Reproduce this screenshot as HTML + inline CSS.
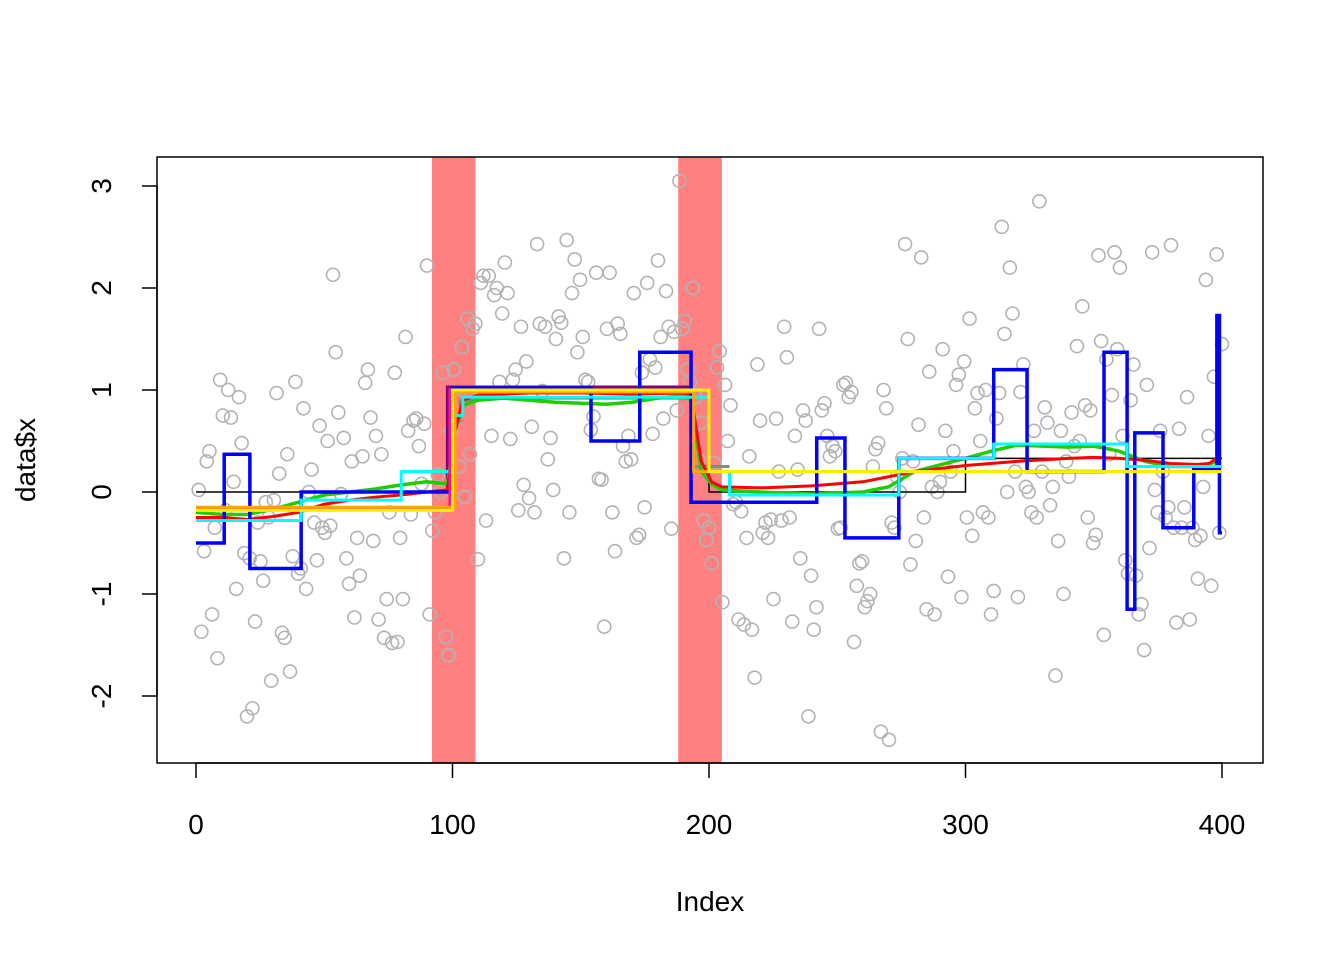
<!DOCTYPE html>
<html><head><meta charset="utf-8"><style>body{margin:0;background:#fff}svg{display:block;font-family:"Liberation Sans",Arial,sans-serif}</style></head>
<body>
<svg id="chart" width="1344" height="960"></svg>
<script>
const pts = [0.02,-1.37,-0.58,0.3,0.4,-1.2,-0.35,-1.63,1.1,0.75,-0.18,1.0,0.73,0.1,-0.95,0.93,0.48,-0.6,-2.2,-0.65,
-2.12,-1.27,-0.3,-0.68,-0.87,-0.1,-0.25,-1.85,-0.08,0.97,0.18,-1.38,-1.43,0.37,-1.76,-0.63,1.08,-0.8,-0.75,0.82,
-0.95,0.0,0.22,-0.3,-0.67,0.65,-0.35,-0.4,0.5,-0.33,2.13,1.37,0.78,-0.02,0.53,-0.65,-0.9,0.3,-1.23,-0.45,
-0.82,0.35,1.07,1.2,0.73,-0.48,0.55,-1.25,0.37,-1.43,-1.05,-0.2,-1.48,1.17,-1.47,-0.45,-1.05,1.52,0.6,-0.22,
0.7,0.72,0.45,0.08,0.67,2.22,-1.2,-0.38,-0.2,0.17,0.0,1.17,-1.42,-1.6,0.6,1.2,0.9,0.25,1.42,-0.05,
1.7,0.37,1.6,1.65,-0.66,2.05,2.12,-0.28,2.12,0.55,1.93,2.0,1.08,1.75,2.25,1.95,0.52,1.1,1.2,-0.18,
1.62,0.07,1.28,-0.06,0.64,-0.2,2.43,1.65,0.99,1.62,0.32,0.53,0.02,1.5,1.72,1.66,-0.65,2.47,-0.2,1.95,
2.28,1.37,2.08,1.52,1.1,1.08,0.61,0.74,2.15,0.13,0.12,-1.32,1.6,2.15,-0.2,-0.58,1.65,1.55,0.45,0.3,
0.55,0.32,1.95,-0.45,-0.42,1.17,-0.15,2.05,1.3,0.57,1.22,2.27,1.52,0.72,1.97,1.62,-0.36,1.57,0.8,3.05,
1.6,1.68,1.2,1.08,2.0,0.93,0.32,0.68,-0.28,-0.47,-0.35,-0.7,0.28,1.22,1.38,-1.08,1.05,0.5,0.85,-0.12,
-0.1,-1.25,-0.19,-1.3,-0.45,0.35,-1.35,-1.82,1.25,0.7,-0.4,-0.3,-0.45,-0.27,-1.05,0.72,0.2,-0.28,1.62,1.32,
-0.25,-1.27,0.55,0.22,-0.65,0.8,0.7,-2.2,-0.82,-1.35,-1.13,1.6,0.8,0.87,0.55,0.35,0.45,0.4,-0.36,-0.35,
1.05,1.07,0.93,0.98,-1.47,-0.92,-0.7,-0.68,-1.13,-1.07,-1.0,0.25,0.42,0.48,-2.35,1.0,0.82,-2.43,-0.3,-0.35,
0.15,0.0,0.33,2.43,1.5,-0.71,0.3,-0.48,0.66,2.3,-0.25,-1.15,1.18,0.05,-1.2,0.0,0.1,1.4,0.6,-0.83,
0.2,0.4,1.05,1.15,-1.03,1.28,-0.25,1.7,-0.43,0.82,0.97,0.5,-0.2,1.0,-0.25,-1.2,-0.97,0.72,0.97,2.6,
1.55,0.0,2.2,1.75,0.2,-1.03,0.98,1.25,0.05,0.0,-0.2,0.6,-0.25,2.85,0.2,0.83,0.68,-0.13,0.05,-1.8,
-0.48,0.6,-1.0,0.3,0.15,0.78,0.45,1.43,0.5,1.82,0.85,-0.25,0.8,-0.5,-0.42,2.32,1.48,-1.4,1.3,0.37,
0.95,2.35,1.4,2.2,0.55,-0.67,-0.8,0.9,1.25,-0.82,-1.2,-1.1,-1.55,1.05,-0.55,2.35,0.02,-0.2,0.6,0.2,
-0.25,-0.15,2.42,-0.35,-1.28,0.62,-0.35,-0.15,0.93,-1.25,-0.35,-0.47,-0.85,-0.43,0.05,2.08,0.55,-0.92,1.13,2.33,-0.4,1.45];
const bands = [[92,109],[188,205]];
const blackBreaks = [0,100,200,300,400], blackVals = [0,1,0,0.33];
const blueBreaks = [0,11,21,41,100,154,173,193,242,253,274,311,324,354,363,366,377,389,398,399,400];
const blueVals = [-0.5,0.37,-0.75,0,1.02,0.5,1.37,-0.1,0.53,-0.45,0.33,1.2,0.2,1.37,-1.15,0.58,-0.35,0.22,1.73,-0.4];
const cyanBreaks = [0,41,80,100,104,200,208,274,311,363,400];
const cyanVals = [-0.28,-0.08,0.2,0.75,0.93,0.2,-0.03,0.33,0.47,0.25];
const pinkBreaks=[0,99,101], pinkVals=[-0.17,1.0];
const purpleBreaks=[96,98,193,204], purpleVals=[0,1.03,-0.1];
const greyBreaks=[90,100,103,108,194,208], greyVals=[0.2,0.7,0.9,0.92,0.25];
const orangeBreaks=[0,101,194,400], orangeVals=[-0.15,0.98,0.2];
const yellowBreaks=[0,100,200,400], yellowVals=[-0.18,1.0,0.2];
const redX=[0,10,20,30,40,50,60,70,80,90,98,101,104,110,130,150,170,190,193,197,201,205,220,240,260,280,300,320,340,350,360,370,380,390,395,399];
const redY=[-0.25,-0.25,-0.27,-0.24,-0.2,-0.12,-0.08,-0.05,-0.03,0.0,0.02,0.6,0.9,0.95,0.97,0.97,0.96,0.97,0.95,0.3,0.1,0.05,0.04,0.06,0.1,0.2,0.26,0.3,0.33,0.34,0.33,0.31,0.28,0.27,0.28,0.35];
const greenX=[0,10,20,30,40,50,60,70,80,90,98,101,104,110,120,130,140,150,160,170,180,190,193,197,201,205,220,240,260,270,280,300,310,320,330,340,350,360,370,380,390,399];
const greenY=[-0.2,-0.22,-0.22,-0.17,-0.1,-0.03,0.0,0.03,0.07,0.1,0.08,0.6,0.85,0.9,0.92,0.9,0.88,0.87,0.86,0.88,0.92,0.95,0.9,0.2,0.08,0.02,0.0,-0.02,0.0,0.05,0.2,0.33,0.4,0.46,0.45,0.44,0.45,0.4,0.3,0.25,0.25,0.3];
const xTicks=[0,100,200,300,400], yTicks=[-2,-1,0,1,2,3];

const NS="http://www.w3.org/2000/svg", svg=document.getElementById('chart');
const X=v=>196+v*2.565, Y=v=>492-v*102;
function mk(t,a,parent){const e=document.createElementNS(NS,t);for(const k in a)e.setAttribute(k,a[k]);(parent||svg).appendChild(e);return e;}
bands.forEach(b=>{const r=mk('rect',{x:X(b[0]),y:157,width:X(b[1])-X(b[0]),height:606,fill:'#ff8080'});

});
const g=mk('g',{});


pts.forEach((v,i)=>{const c=mk('circle',{cx:X((i+1)*400/pts.length),cy:Y(v),r:6.5,fill:'none',stroke:'#b3b3b3','stroke-width':1.6},g);

});
function step(br,vals,col,w,name){let d='';vals.forEach((v,i)=>{d+=(i?'L':'M')+X(br[i])+','+Y(v)+'L'+X(br[i+1])+','+Y(v);});
const p=mk('path',{d:d,fill:'none',stroke:col,'stroke-width':w});

}
function line(xs,ys,col,w,name){const p=mk('path',{d:xs.map((x,i)=>(i?'L':'M')+X(x)+','+Y(ys[i])).join(''),fill:'none',stroke:col,'stroke-width':w,'stroke-linejoin':'round'});

}
step(blackBreaks,blackVals,'#000',1.5,'true-mean-line');
step(purpleBreaks,purpleVals,'#800080',3,'purple-fit');
step(greyBreaks,greyVals,'#888',3,'grey-fit');
line(greenX,greenY,'#22cc00',3.5,'green-smooth');
line(redX,redY,'#ff0000',3,'red-smooth');
step(blueBreaks,blueVals,'#0000ff',3.5,'blue-step-fit');
step(cyanBreaks,cyanVals,'#00ffff',3,'cyan-step-fit');
step(pinkBreaks,pinkVals,'#ff1493',3,'pink-fit');
step(orangeBreaks,orangeVals,'#ffa500',3,'orange-fit');
step(yellowBreaks,yellowVals,'#ffee00',3,'yellow-fit');
const box=mk('rect',{x:157,y:157,width:1106,height:606,fill:'none',stroke:'#000','stroke-width':1.5});


xTicks.forEach(t=>{mk('line',{x1:X(t),x2:X(t),y1:763,y2:778,stroke:'#000','stroke-width':1.5});
const tx=mk('text',{x:X(t),y:834,'font-size':28,'text-anchor':'middle'});tx.textContent=t;

});
mk('line',{x1:X(0),x2:X(400),y1:763,y2:763,stroke:'#000','stroke-width':1.5});
yTicks.forEach(t=>{mk('line',{x1:142,x2:157,y1:Y(t),y2:Y(t),stroke:'#000','stroke-width':1.5});
const tx=mk('text',{x:0,y:0,'font-size':28,'text-anchor':'middle',transform:`translate(111,${Y(t)}) rotate(-90)`});tx.textContent=t;

});
mk('line',{x1:157,x2:157,y1:Y(-2),y2:Y(3),stroke:'#000','stroke-width':1.5});
const xt=mk('text',{x:710,y:911,'font-size':28,'text-anchor':'middle'});xt.textContent='Index';


const yt=mk('text',{x:0,y:0,'font-size':28,'text-anchor':'middle',transform:'translate(35,460) rotate(-90)'});yt.textContent='data$x';


</script>
</body></html>
